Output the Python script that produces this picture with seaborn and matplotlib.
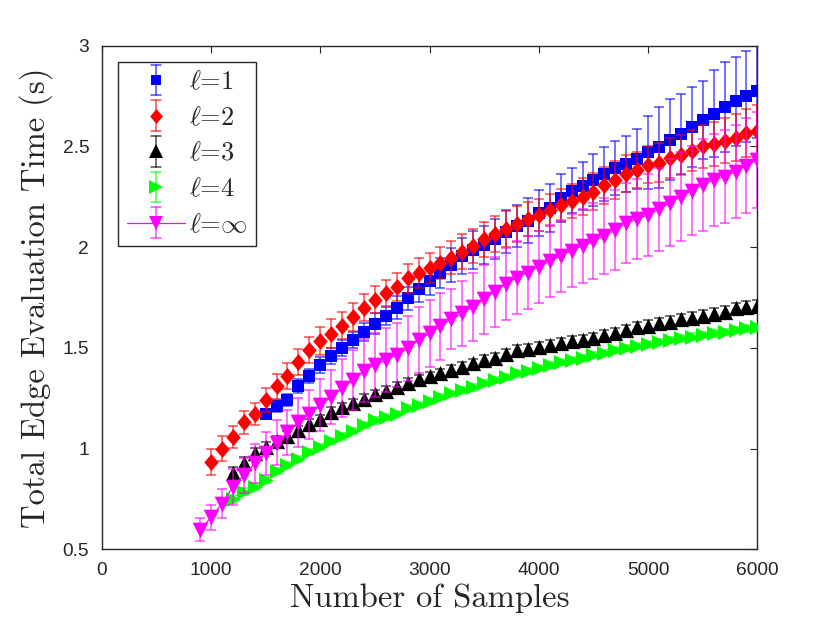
import numpy as np
import pandas as pd
import matplotlib
matplotlib.use("Agg")
import matplotlib.pyplot as plt
from matplotlib.lines import Line2D
from matplotlib.legend_handler import HandlerBase
import seaborn as sns

# ---------------- data ----------------
x_l1 = list(range(1500, 6001, 100))
y_l1 = [1.17, 1.21, 1.24, 1.31, 1.36, 1.415, 1.46, 1.50, 1.54, 1.58, 1.62, 1.66, 1.70,
        1.746, 1.79, 1.833, 1.870, 1.911, 1.956, 1.986, 2.011, 2.039, 2.077, 2.105, 2.132,
        2.169, 2.193, 2.243, 2.281, 2.304, 2.334, 2.362, 2.392, 2.414, 2.438, 2.470, 2.495,
        2.533, 2.561, 2.596, 2.632, 2.662, 2.695, 2.723, 2.748, 2.773]
e_l1 = [0.025, 0.03, 0.03, 0.035, 0.035, 0.04, 0.04, 0.04, 0.04, 0.045, 0.053, 0.045, 0.055,
        0.058, 0.062, 0.07, 0.075, 0.085, 0.09, 0.095, 0.095, 0.1, 0.105, 0.105, 0.11,
        0.115, 0.12, 0.12, 0.11, 0.12, 0.13, 0.133, 0.134, 0.14, 0.15, 0.18, 0.2,
        0.2, 0.2, 0.2, 0.195, 0.215, 0.224, 0.22, 0.224, 0.232]

x_l2 = list(range(1000, 6001, 100))
y_l2 = [0.933, 1.00, 1.056, 1.13, 1.17, 1.24, 1.31, 1.36, 1.43, 1.49, 1.535, 1.57, 1.61,
        1.655, 1.70, 1.74, 1.774, 1.804, 1.845, 1.870, 1.898, 1.920, 1.948, 1.978, 2.007,
        2.039, 2.064, 2.090, 2.115, 2.139, 2.160, 2.185, 2.210, 2.229, 2.251, 2.276, 2.306,
        2.334, 2.364, 2.384, 2.408, 2.420, 2.442, 2.458, 2.478, 2.500, 2.513, 2.529, 2.544,
        2.566, 2.579]
e_l2 = [0.066, 0.06, 0.055, 0.058, 0.054, 0.06, 0.062, 0.064, 0.066, 0.066, 0.07, 0.072, 0.068,
        0.07, 0.066, 0.068, 0.064, 0.07, 0.072, 0.075, 0.075, 0.08, 0.083, 0.085, 0.085,
        0.088, 0.09, 0.09, 0.088, 0.085, 0.08, 0.078, 0.08, 0.085, 0.09, 0.09, 0.092,
        0.095, 0.092, 0.09, 0.092, 0.095, 0.1, 0.1, 0.102, 0.105, 0.108, 0.11, 0.115,
        0.12, 0.125]

x_l3 = list(range(1200, 6001, 100))
y_l3 = [0.88, 0.93, 0.976, 1.01, 1.04, 1.064, 1.09, 1.12, 1.147, 1.18, 1.205, 1.225, 1.245,
        1.27, 1.287, 1.307, 1.324, 1.343, 1.360, 1.373, 1.390, 1.406, 1.423, 1.439, 1.451,
        1.469, 1.489, 1.494, 1.505, 1.514, 1.525, 1.533, 1.539, 1.550, 1.564, 1.575, 1.588,
        1.602, 1.610, 1.622, 1.630, 1.642, 1.650, 1.660, 1.668, 1.679, 1.696, 1.704, 1.709]
e_l3 = [0.03, 0.028, 0.025, 0.025, 0.024, 0.022, 0.024, 0.025, 0.022, 0.024, 0.023, 0.022, 0.024,
        0.023, 0.022, 0.024, 0.025, 0.023, 0.022, 0.024, 0.025, 0.023, 0.024, 0.025, 0.024,
        0.023, 0.025, 0.024, 0.025, 0.026, 0.024, 0.025, 0.026, 0.025, 0.024, 0.026, 0.025,
        0.026, 0.027, 0.025, 0.026, 0.027, 0.026, 0.027, 0.028, 0.027, 0.028, 0.027, 0.028]

x_l4 = list(range(1200, 6001, 100))
y_l4 = [0.75, 0.785, 0.81, 0.843, 0.89, 0.918, 0.95, 0.984, 1.01, 1.037, 1.06, 1.087, 1.117,
        1.14, 1.158, 1.174, 1.199, 1.216, 1.237, 1.257, 1.274, 1.290, 1.304, 1.324, 1.340,
        1.356, 1.373, 1.386, 1.398, 1.414, 1.431, 1.439, 1.452, 1.464, 1.473, 1.489, 1.497,
        1.509, 1.519, 1.530, 1.539, 1.547, 1.555, 1.564, 1.572, 1.580, 1.589, 1.597, 1.602]
e_l4 = [0.018, 0.017, 0.016, 0.016, 0.015, 0.016, 0.015, 0.014, 0.015, 0.016, 0.015, 0.014, 0.015,
        0.016, 0.015, 0.014, 0.015, 0.016, 0.015, 0.015, 0.014, 0.015, 0.016, 0.015, 0.014,
        0.015, 0.016, 0.015, 0.015, 0.016, 0.015, 0.014, 0.015, 0.016, 0.015, 0.016, 0.015,
        0.016, 0.017, 0.016, 0.015, 0.016, 0.017, 0.016, 0.017, 0.016, 0.017, 0.018, 0.017]

x_linf = list(range(900, 6001, 100))
y_linf = [0.598, 0.658, 0.727, 0.81, 0.868, 0.926, 0.976, 1.03, 1.08, 1.13, 1.17, 1.216, 1.255,
          1.30, 1.34, 1.387, 1.415, 1.439, 1.464, 1.497, 1.539, 1.572, 1.608, 1.642, 1.671,
          1.704, 1.741, 1.779, 1.817, 1.849, 1.873, 1.903, 1.931, 1.956, 1.983, 2.006, 2.031,
          2.056, 2.085, 2.119, 2.139, 2.160, 2.188, 2.221, 2.251, 2.281, 2.309, 2.334, 2.350,
          2.375, 2.404, 2.433]
e_linf = [0.058, 0.063, 0.073, 0.09, 0.087, 0.097, 0.105, 0.11, 0.113, 0.12, 0.122, 0.13, 0.135,
          0.145, 0.15, 0.155, 0.157, 0.16, 0.16, 0.162, 0.163, 0.165, 0.166, 0.15, 0.16,
          0.17, 0.17, 0.174, 0.178, 0.18, 0.182, 0.178, 0.18, 0.18, 0.182, 0.185, 0.19,
          0.19, 0.198, 0.2, 0.2, 0.204, 0.207, 0.215, 0.22, 0.22, 0.227, 0.23, 0.23,
          0.232, 0.235, 0.24]

labels = [r'$\ell$=1', r'$\ell$=2', r'$\ell$=3', r'$\ell$=4', r'$\ell$=$\infty$']
colors = ['#0000ff', '#ff0000', '#000000', '#00ff00', '#ff00ff']

x_ticks = [0, 1000, 2000, 3000, 4000, 5000, 6000]
x_ticklabels = ['0', '1000', '2000', '3000', '4000', '5000', '6000']
y_ticks = [0.5, 1.0, 1.5, 2.0, 2.5, 3.0]
y_ticklabels = ['0.5', '1', '1.5', '2', '2.5', '3']

# ---------------- style ----------------
sns.set_theme(style='white')
plt.rcParams['font.family'] = ['Liberation Sans', 'DejaVu Sans']
plt.rcParams['mathtext.fontset'] = 'cm'
axc = '#262626'
ERR_ALPHA = 0.7
CAP = 3.6

fig = plt.figure(figsize=(8.3, 6.23), dpi=100)
ax = fig.add_axes([101.7 / 830, 1 - 549.3 / 623, (757.4 - 101.7) / 830, (549.3 - 45.7) / 623])

diamond = [(0, 1), (0.85, 0), (0, -1), (-0.85, 0)]
series = [
    (x_l1, y_l1, e_l1, 's', 8.3, False),
    (x_l2, y_l2, e_l2, diamond, 12.2, False),
    (x_l3, y_l3, e_l3, '^', 11.0, False),
    (x_l4, y_l4, e_l4, '>', 10.8, False),
    (x_linf, y_linf, e_linf, 'v', 11.3, True),
]

for i, (xs, ys, es, mk, ms, has_line) in enumerate(series):
    df = pd.DataFrame({'x': xs, 'y': ys, 'e': es})
    col = colors[i]
    ax.errorbar(df['x'], df['y'], yerr=df['e'], fmt='none', ecolor=col,
                elinewidth=1.1, capsize=CAP, capthick=1.1, alpha=ERR_ALPHA,
                zorder=2 + i)
    if has_line:
        sns.lineplot(data=df, x='x', y='y', ax=ax, color=col, linewidth=0.9,
                     zorder=2 + i, legend=False)
    sns.scatterplot(data=df, x='x', y='y', ax=ax, marker=mk, s=ms ** 2, color=col,
                    edgecolor=col, linewidth=0, zorder=2.5 + i, legend=False)


class ErrorbarKey(HandlerBase):
    def __init__(self, marker, ms, color, line):
        super().__init__()
        self.marker, self.ms, self.color, self.line = marker, ms, color, line

    def create_artists(self, legend, orig_handle, xdescent, ydescent, width, height,
                       fontsize, trans):
        cx = 0.5 * width - xdescent
        cy = 0.5 * height - ydescent
        hh = 0.58 * fontsize
        arts = []
        if self.line:
            arts.append(Line2D([-xdescent, width - xdescent], [cy, cy], color=self.color,
                               lw=0.9))
        arts.append(Line2D([cx, cx], [cy - hh, cy + hh], color=self.color, lw=1.1,
                           alpha=ERR_ALPHA))
        for yy in (cy - hh, cy + hh):
            arts.append(Line2D([cx - CAP, cx + CAP], [yy, yy], color=self.color, lw=1.1,
                               alpha=ERR_ALPHA))
        arts.append(Line2D([cx], [cy], marker=self.marker, ms=self.ms, color=self.color,
                           mec=self.color, mew=0, ls='none'))
        for a in arts:
            a.set_transform(trans)
        return arts


proxies = [Line2D([], [], color=c) for c in colors]
hmap = {p: ErrorbarKey(s[3], s[4] * 0.88, colors[i], s[5])
        for i, (p, s) in enumerate(zip(proxies, series))}

leg = ax.legend(proxies, labels, loc='upper left', bbox_to_anchor=(0.0248, 0.968),
                borderaxespad=0, fancybox=False, framealpha=1, edgecolor=axc,
                prop={'family': 'cmr10', 'size': 19}, handlelength=2.2,
                handletextpad=0.15, labelspacing=0.45, borderpad=0.33,
                handler_map=hmap)
leg.get_frame().set_linewidth(1.0)

ax.set_xlim(0, 6000)
ax.set_ylim(0.5, 3.0)
ax.set_xticks(x_ticks)
ax.set_xticklabels(x_ticklabels)
ax.set_yticks(y_ticks)
ax.set_yticklabels(y_ticklabels)
ax.tick_params(direction='in', length=5, width=0.8, colors=axc, labelsize=13.8,
               top=True, right=True, labelcolor='#262626')
ax.tick_params(axis='x', pad=9)
ax.tick_params(axis='y', pad=9)
for sp in ax.spines.values():
    sp.set_visible(True)
    sp.set_color(axc)
    sp.set_linewidth(1.0)

ax.set_xlabel('Number of Samples', fontfamily='cmr10', fontsize=23.5, color='#262626',
              labelpad=3)
ax.set_ylabel('Total Edge Evaluation Time (s)', fontfamily='cmr10', fontsize=23.5,
              color='#262626', labelpad=7)
ax.grid(False)
fig.patch.set_facecolor('white')
fig.savefig('out.png', dpi=100, facecolor='white')
